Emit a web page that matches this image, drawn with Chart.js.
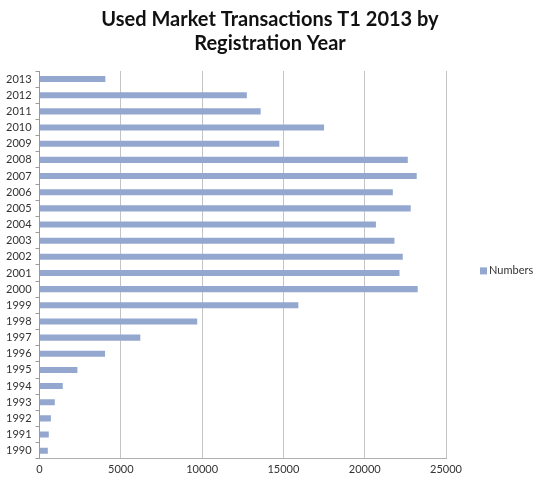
<!DOCTYPE html>
<html>
<head>
<meta charset="utf-8">
<script src="https://cdn.jsdelivr.net/npm/chart.js@4"></script>
<style>
  body { margin: 0; background: #fff; }
  #wrap { width: 540px; height: 480px; }
</style>
</head>
<body>
<div id="wrap"><canvas class="chart"></canvas></div>
<script>
const years = ['2013', '2012', '2011', '2010', '2009', '2008', '2007', '2006', '2005', '2004', '2003', '2002',
    '2001', '2000', '1999', '1998', '1997', '1996', '1995', '1994', '1993', '1992', '1991', '1990'];
const numbers = [4050, 12750, 13600, 17500, 14750, 22650, 23200, 21730, 22830, 20690, 21830, 22340,
    22140, 23260, 15920, 9700, 6200, 4030, 2330, 1430, 940, 700, 570, 510];
const xTicks = [0, 5000, 10000, 15000, 20000, 25000];

const barColor = '#94a7cf';
const chartOne = document.querySelector(".chart");

// legend drawn by hand so it sits level with the middle of the plot, like the original
// also stretch the title back over the full width (right padding is only for the legend)
const sideLegend = {
    id: 'sideLegend',
    afterLayout(chart) {
        const t = chart.titleBlock;
        t.left = 0;
        t.right = chart.width;
        t.width = chart.width;
    },
    afterDraw(chart) {
        const ctx = chart.ctx;
        const area = chart.chartArea;
        const x = area.right + 34;
        const y = (area.top + area.bottom) / 2 + 6;
        ctx.save();
        ctx.fillStyle = barColor;
        ctx.fillRect(x, y - 3.5, 7, 7);
        ctx.fillStyle = '#333';
        ctx.font = '11px Lato';
        ctx.textBaseline = 'middle';
        ctx.fillText(chart.data.datasets[0].label, x + 9, y);
        ctx.restore();
    }
};

function createChart(canvasElement) {
    new Chart(canvasElement, {
        type: 'bar',
        data: {
            labels: years,
            datasets: [{
                label: 'Numbers',
                data: numbers,
                backgroundColor: barColor,
                borderWidth: 0,
                barPercentage: 0.75,
                categoryPercentage: 0.5
            }]
        },
        options: {
            indexAxis: 'y',
            responsive: true,
            maintainAspectRatio: false,
            animation: false,
            layout: { padding: { left: 2, right: 94, top: 2, bottom: 0 } },
            plugins: {
                title: {
                    display: true,
                    text: ['Used Market Transactions T1 2013 by', 'Registration Year'],
                    font: { family: 'Lato', size: 20, weight: 'bold' },
                    color: '#111',
                    padding: { top: 6, bottom: 15 },
                    lineHeight: 1.4
                },
                legend: { display: false },
                tooltip: { enabled: false }
            },
            scales: {
                x: {
                    min: 0,
                    max: 25000,
                    afterBuildTicks: (scale) => { scale.ticks = xTicks.map(v => ({ value: v })); },
                    ticks: {
                        font: { family: 'Lato', size: 11 },
                        color: '#333',
                        padding: 4,
                        callback: (v) => String(v)
                    },
                    grid: { color: '#c4c4c4', tickLength: 4, drawTicks: false },
                    border: { color: '#b0b0b0' }
                },
                y: {
                    ticks: { font: { family: 'Lato', size: 11 }, color: '#333', padding: 4, autoSkip: false },
                    grid: { drawOnChartArea: false, tickLength: 4, color: '#9a9a9a', offset: true },
                    border: { color: '#9a9a9a' }
                }
            }
        },
        plugins: [sideLegend]
    });
}

createChart(chartOne)
</script>
</body>
</html>
